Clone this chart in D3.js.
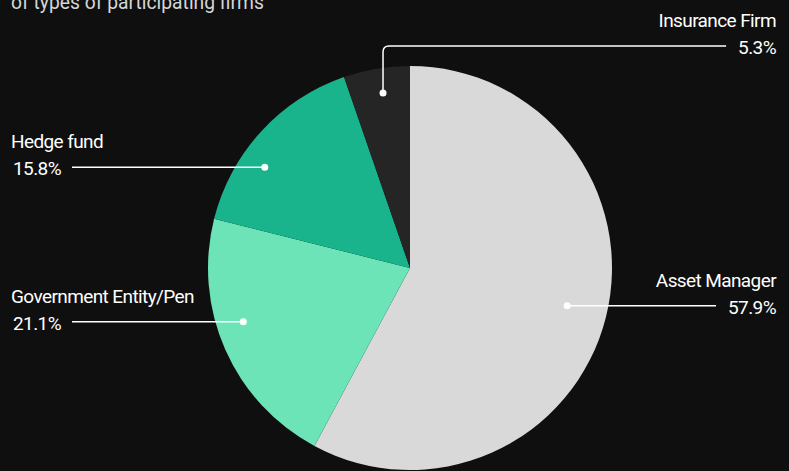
<!DOCTYPE html>
<html>
<head>
<meta charset="utf-8">
<script src="https://cdn.jsdelivr.net/npm/d3@7"></script>
<style>
  html, body { margin: 0; padding: 0; background: #0f0f0f; }
  svg { display: block; }
  text { font-family: Roboto, "Noto Sans", sans-serif; }
</style>
</head>
<body>
<svg id="chart" width="789" height="471"></svg>
<script>
// Share of participating firms by type (%)
const categories = ["Asset Manager", "Government Entity/Pen", "Hedge fund", "Insurance Firm"];
const shares = [57.9, 21.1, 15.8, 5.3];
const shareLabels = ["57.9%", "21.1%", "15.8%", "5.3%"];
const sliceColors = ["#d9d9d9", "#6de3b8", "#19b48b", "#252525"];
const subtitle = "of types of participating firms";

// Label placement: where the leader dot sits inside each slice
// (fraction of the slice's angle, fraction of the radius) and which side the text goes.
const labelSide = ["right", "left", "left", "right-top"];
const anchorAngleFrac = [0.497, 0.579, 0.363, 0.54];
const anchorRadiusFrac = [0.80, 0.867, 0.875, 0.876];

const W = 789, H = 471;
const cx = 410, cy = 268, R = 202;
const leftTextX = 11, leftPctX = 61, rightTextX = 776;
const topLabelY = 46;

const svg = d3.select("#chart");
svg.append("rect").attr("width", W).attr("height", H).attr("fill", "#0f0f0f");

svg.append("text")
  .attr("x", 11).attr("y", 9)
  .attr("fill", "#d6d6d6")
  .attr("font-size", 19.3)
  .text(subtitle);

const data = categories.map((c, i) => ({ name: c, value: shares[i], label: shareLabels[i], i }));

const pie = d3.pie().sort(null).value(d => d.value).startAngle(0).endAngle(2 * Math.PI);
const arcs = pie(data);
const arc = d3.arc().innerRadius(0).outerRadius(R);

const g = svg.append("g").attr("transform", `translate(${cx},${cy})`);
g.selectAll("path.slice")
  .data(arcs)
  .join("path")
  .attr("class", "slice")
  .attr("d", arc)
  .attr("fill", d => sliceColors[d.data.i]);

const labels = svg.append("g");
const fs = 19;
const ls = -0.6;

arcs.forEach(a => {
  const i = a.data.i;
  const ang = a.startAngle + anchorAngleFrac[i] * (a.endAngle - a.startAngle);
  const r = anchorRadiusFrac[i] * R;
  const px = cx + r * Math.sin(ang);
  const py = cy - r * Math.cos(ang);
  const side = labelSide[i];

  let pathD, textX, anchor, lineY;
  if (side === "left") {
    lineY = py;
    textX = leftTextX; anchor = "start";
  } else {
    lineY = side === "right" ? py : topLabelY;
    textX = rightTextX; anchor = "end";
  }

  labels.append("text")
    .attr("x", textX).attr("y", lineY - 19)
    .attr("text-anchor", anchor)
    .attr("fill", "#ffffff")
    .attr("font-size", fs)
    .attr("letter-spacing", ls)
    .text(a.data.name);

  const pctT = labels.append("text")
    .attr("y", lineY + 8)
    .attr("fill", "#ffffff")
    .attr("font-size", fs)
    .attr("letter-spacing", ls)
    .text(a.data.label);

  if (side === "left") {
    pctT.attr("x", leftPctX).attr("text-anchor", "end");
    const x0 = leftPctX + 11;
    pathD = `M${x0},${lineY}H${px}`;
  } else {
    pctT.attr("x", rightTextX).attr("text-anchor", "end");
    const pw = pctT.node().getComputedTextLength();
    const x1 = rightTextX - pw - 12;
    if (side === "right") {
      pathD = `M${px},${lineY}H${x1}`;
    } else {
      const cr = 6;
      pathD = `M${px},${py}V${lineY + cr}Q${px},${lineY} ${px + cr},${lineY}H${x1}`;
    }
  }

  labels.append("path")
    .attr("d", pathD)
    .attr("fill", "none")
    .attr("stroke", "#ffffff")
    .attr("stroke-width", 1.5);

  labels.append("circle")
    .attr("cx", px).attr("cy", py).attr("r", 3.5)
    .attr("fill", "#ffffff");
});
</script>
</body>
</html>
